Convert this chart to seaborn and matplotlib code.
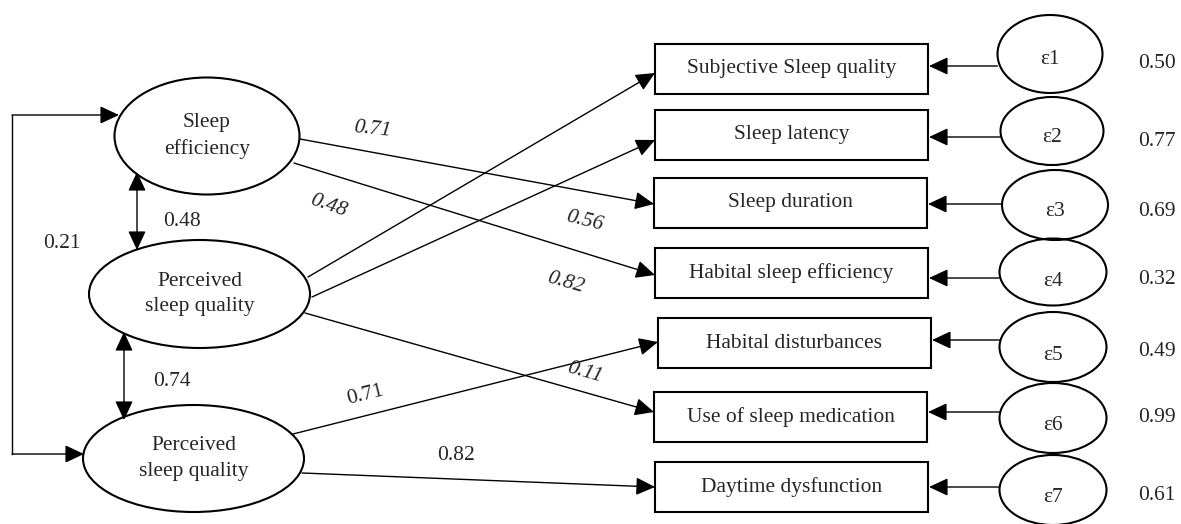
import matplotlib
matplotlib.use("Agg")
import matplotlib.pyplot as plt
from matplotlib.patches import Ellipse, Rectangle, FancyArrowPatch
import seaborn as sns

# ---------------- data ----------------
latent_labels = ["Sleep\nefficiency", "Perceived\nsleep quality", "Perceived\nsleep quality"]
indicator_labels = ["Subjective Sleep quality", "Sleep latency", "Sleep duration",
                    "Habital sleep efficiency", "Habital disturbances",
                    "Use of sleep medication", "Daytime dysfunction"]
error_labels = ["\u03b51", "\u03b52", "\u03b53", "\u03b54", "\u03b55", "\u03b56", "\u03b57"]
error_values = [0.50, 0.77, 0.69, 0.32, 0.49, 0.99, 0.61]
# paths: (latent index, indicator index)
path_from = [0, 0, 1, 1, 1, 2, 2]
path_to = [2, 3, 0, 1, 5, 4, 6]
path_values = ["0.71", "0.48", "0.56", "0.82", "0.11", "0.71", "0.82"]
corr_values = ["0.48", "0.74", "0.21"]

# ---------------- layout (pixels) ----------------
lat_xy = [(207, 136), (199.5, 294), (193.5, 458.5)]
lat_wh = [(185, 117), (221, 108), (221, 107)]
box_x0 = [655, 655, 654, 655, 658, 654, 655]
box_x1 = [928, 928, 927, 928, 931, 927, 928]
box_y0 = [44, 110, 178, 248, 318, 392, 462]
box_h = 50
err_xy = [(1050, 54), (1052, 131), (1055, 205), (1053, 272), (1053, 347), (1053, 418), (1053, 490)]
err_wh = [(105, 78), (103, 68), (106, 70), (107, 67), (107, 70), (107, 70), (107, 70)]
err_arrow_y = [66, 137, 204, 278, 340, 412, 487]
err_text_y = [59, 138, 212, 281, 355, 425, 497]
err_val_y = [63, 142, 211, 280, 352, 417, 495]
path_start = [(300, 139), (294, 163), (308, 277), (312, 297), (305, 313), (293, 434), (302, 473)]
path_end = [(654, 204), (655, 275), (655, 73), (655, 140), (654, 412), (658, 342), (655, 487)]
path_lab_xy = [(372, 129), (328, 206), (585, 221), (565, 283), (585, 373), (365, 395), (456, 456)]
path_lab_rot = [-6, -19, -14, -16, -16, 14, 0]
path_lab_italic = [True, True, True, True, True, False, False]
corr_lab_xy = [(182, 222), (172, 382), (62, 243)]

sns.set_theme(style="white")
plt.rcParams["font.family"] = ["Liberation Serif", "DejaVu Serif"]

W, H = 1181, 524
fig = plt.figure(figsize=(W / 100, H / 100), dpi=100)
ax = fig.add_axes([0, 0, 1, 1])
ax.set_xlim(0, W)
ax.set_ylim(H, 0)
ax.axis("off")

FS = 15.5
LW_SHAPE = 1.5
LW_LINE = 1.0
ARR = "-|>,head_length=0.9,head_width=0.42"
DARR = "<|-|>,head_length=0.9,head_width=0.42"


def arrow(p0, p1, style=ARR, lw=LW_LINE):
    a = FancyArrowPatch(p0, p1, arrowstyle=style, mutation_scale=13, lw=lw,
                        color="black", shrinkA=0, shrinkB=0, zorder=3)
    ax.add_patch(a)


# latent ellipses
for (cx, cy), (w, h), lab in zip(lat_xy, lat_wh, latent_labels):
    ax.add_patch(Ellipse((cx, cy), w, h, fill=False, ec="black", lw=LW_SHAPE, zorder=4))
    ax.text(cx, cy, lab, ha="center", va="center", fontsize=FS, linespacing=1.45, zorder=5)

# indicator boxes
for x0, x1, y0, lab in zip(box_x0, box_x1, box_y0, indicator_labels):
    ax.add_patch(Rectangle((x0, y0), x1 - x0, box_h, fill=False, ec="black", lw=LW_SHAPE, zorder=4))
    ax.text((x0 + x1) / 2, y0 + box_h / 2, lab, ha="center", va="center", fontsize=FS, zorder=5)

# error terms
for i, ((cx, cy), (w, h)) in enumerate(zip(err_xy, err_wh)):
    ax.add_patch(Ellipse((cx, cy), w, h, fill=False, ec="black", lw=LW_SHAPE, zorder=4))
    ax.text(cx, err_text_y[i], error_labels[i], ha="center", va="center", fontsize=FS, zorder=5)
    ax.text(1157, err_val_y[i], f"{error_values[i]:.2f}", ha="center", va="center", fontsize=FS, zorder=5)
    arrow((cx - w / 2, err_arrow_y[i]), (box_x1[i] + 1, err_arrow_y[i]))

# paths
for k in range(len(path_from)):
    arrow(path_start[k], path_end[k])
    ax.text(path_lab_xy[k][0], path_lab_xy[k][1], path_values[k], ha="center", va="center",
            fontsize=FS, rotation=path_lab_rot[k], rotation_mode="anchor",
            style="italic" if path_lab_italic[k] else "normal", zorder=5)

# correlations
arrow((137, 172), (137, 250), style=DARR)
arrow((124, 332), (124, 420), style=DARR)
ax.plot([12, 12], [115, 454], color="black", lw=LW_LINE, zorder=3, solid_capstyle="projecting")
arrow((12, 115), (119, 115))
arrow((12, 454), (84, 454))
for (x, y), lab in zip(corr_lab_xy, corr_values):
    ax.text(x, y, lab, ha="center", va="center", fontsize=FS, zorder=5)

fig.savefig("out.png", dpi=100, facecolor="white")
